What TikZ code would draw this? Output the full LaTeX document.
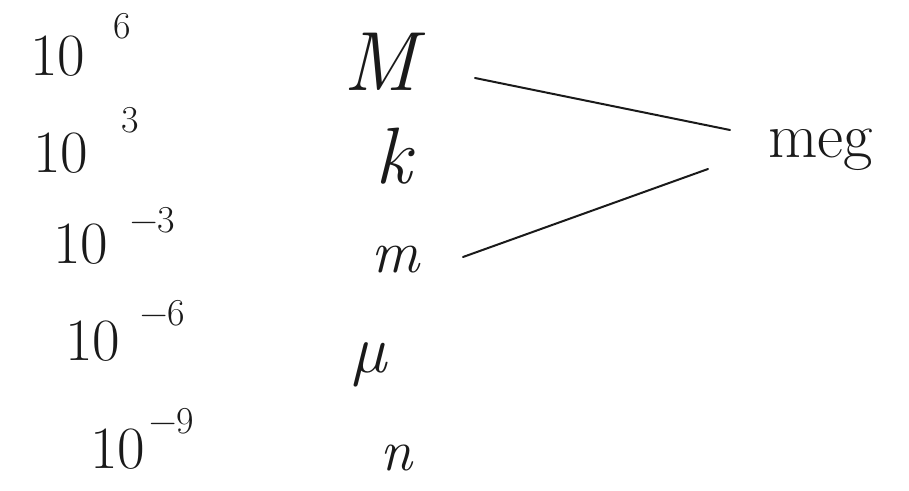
\documentclass[tikz,border=0pt]{standalone}
\usepackage{fontspec}
\usepackage{tikz}
\usetikzlibrary{positioning,calc}
\definecolor{Pen}{HTML}{1A1A1A}
% #1 gap, #2 raise, #3 exponent
\newcommand{\tenpow}[3]{10\hspace{#1}\raisebox{#2}{\fontsize{38}{40}\selectfont #3}}

\begin{document}
\begin{tikzpicture}[x=1pt,y=-1pt,
    power/.style={font=\fontsize{60}{64}\selectfont,text=Pen,anchor=base west,inner sep=0pt},
    unitsym/.style={font=\fontsize{#1}{#1}\selectfont\itshape,text=Pen,anchor=base west,inner sep=0pt},
    stroke/.style={Pen,line width=2pt,line cap=round}]
  \useasboundingbox (0,0) rectangle (909,490);

  % powers of ten
  \node[power] (e6) at (30,75) {\tenpow{28pt}{37pt}{6}};
  \node[power] (e3) at (33,172) {\tenpow{33pt}{40pt}{3}};
  \node[power] (em3) at (53,263) {\tenpow{22pt}{31pt}{−3}};
  \node[power] (em6) at (65,360) {\tenpow{20pt}{35pt}{−6}};
  \node[power] (em9) at (90,468) {\tenpow{4pt}{35pt}{−9}};

  % prefixes
  \node[unitsym=84] (M) at (343,90) {M};
  \node[unitsym=80] (k) at (375,183) {k};
  \node[unitsym=60] (m) at (371,272) {m};
  \node[unitsym=68] (mu) at (352,372) {µ};
  \node[unitsym=58] (n) at (380,470) {n};

  \node[unitsym=64,font=\fontsize{64}{64}\selectfont] (meg) at (768,157) {meg};

  \draw[stroke] ($(M.base west)+(132,-12)$) -- ($(meg.base west)+(-38,-27)$);
  \draw[stroke] ($(m.base west)+(92,-15)$) -- ($(meg.base west)+(-60,12)$);
\end{tikzpicture}
\end{document}
